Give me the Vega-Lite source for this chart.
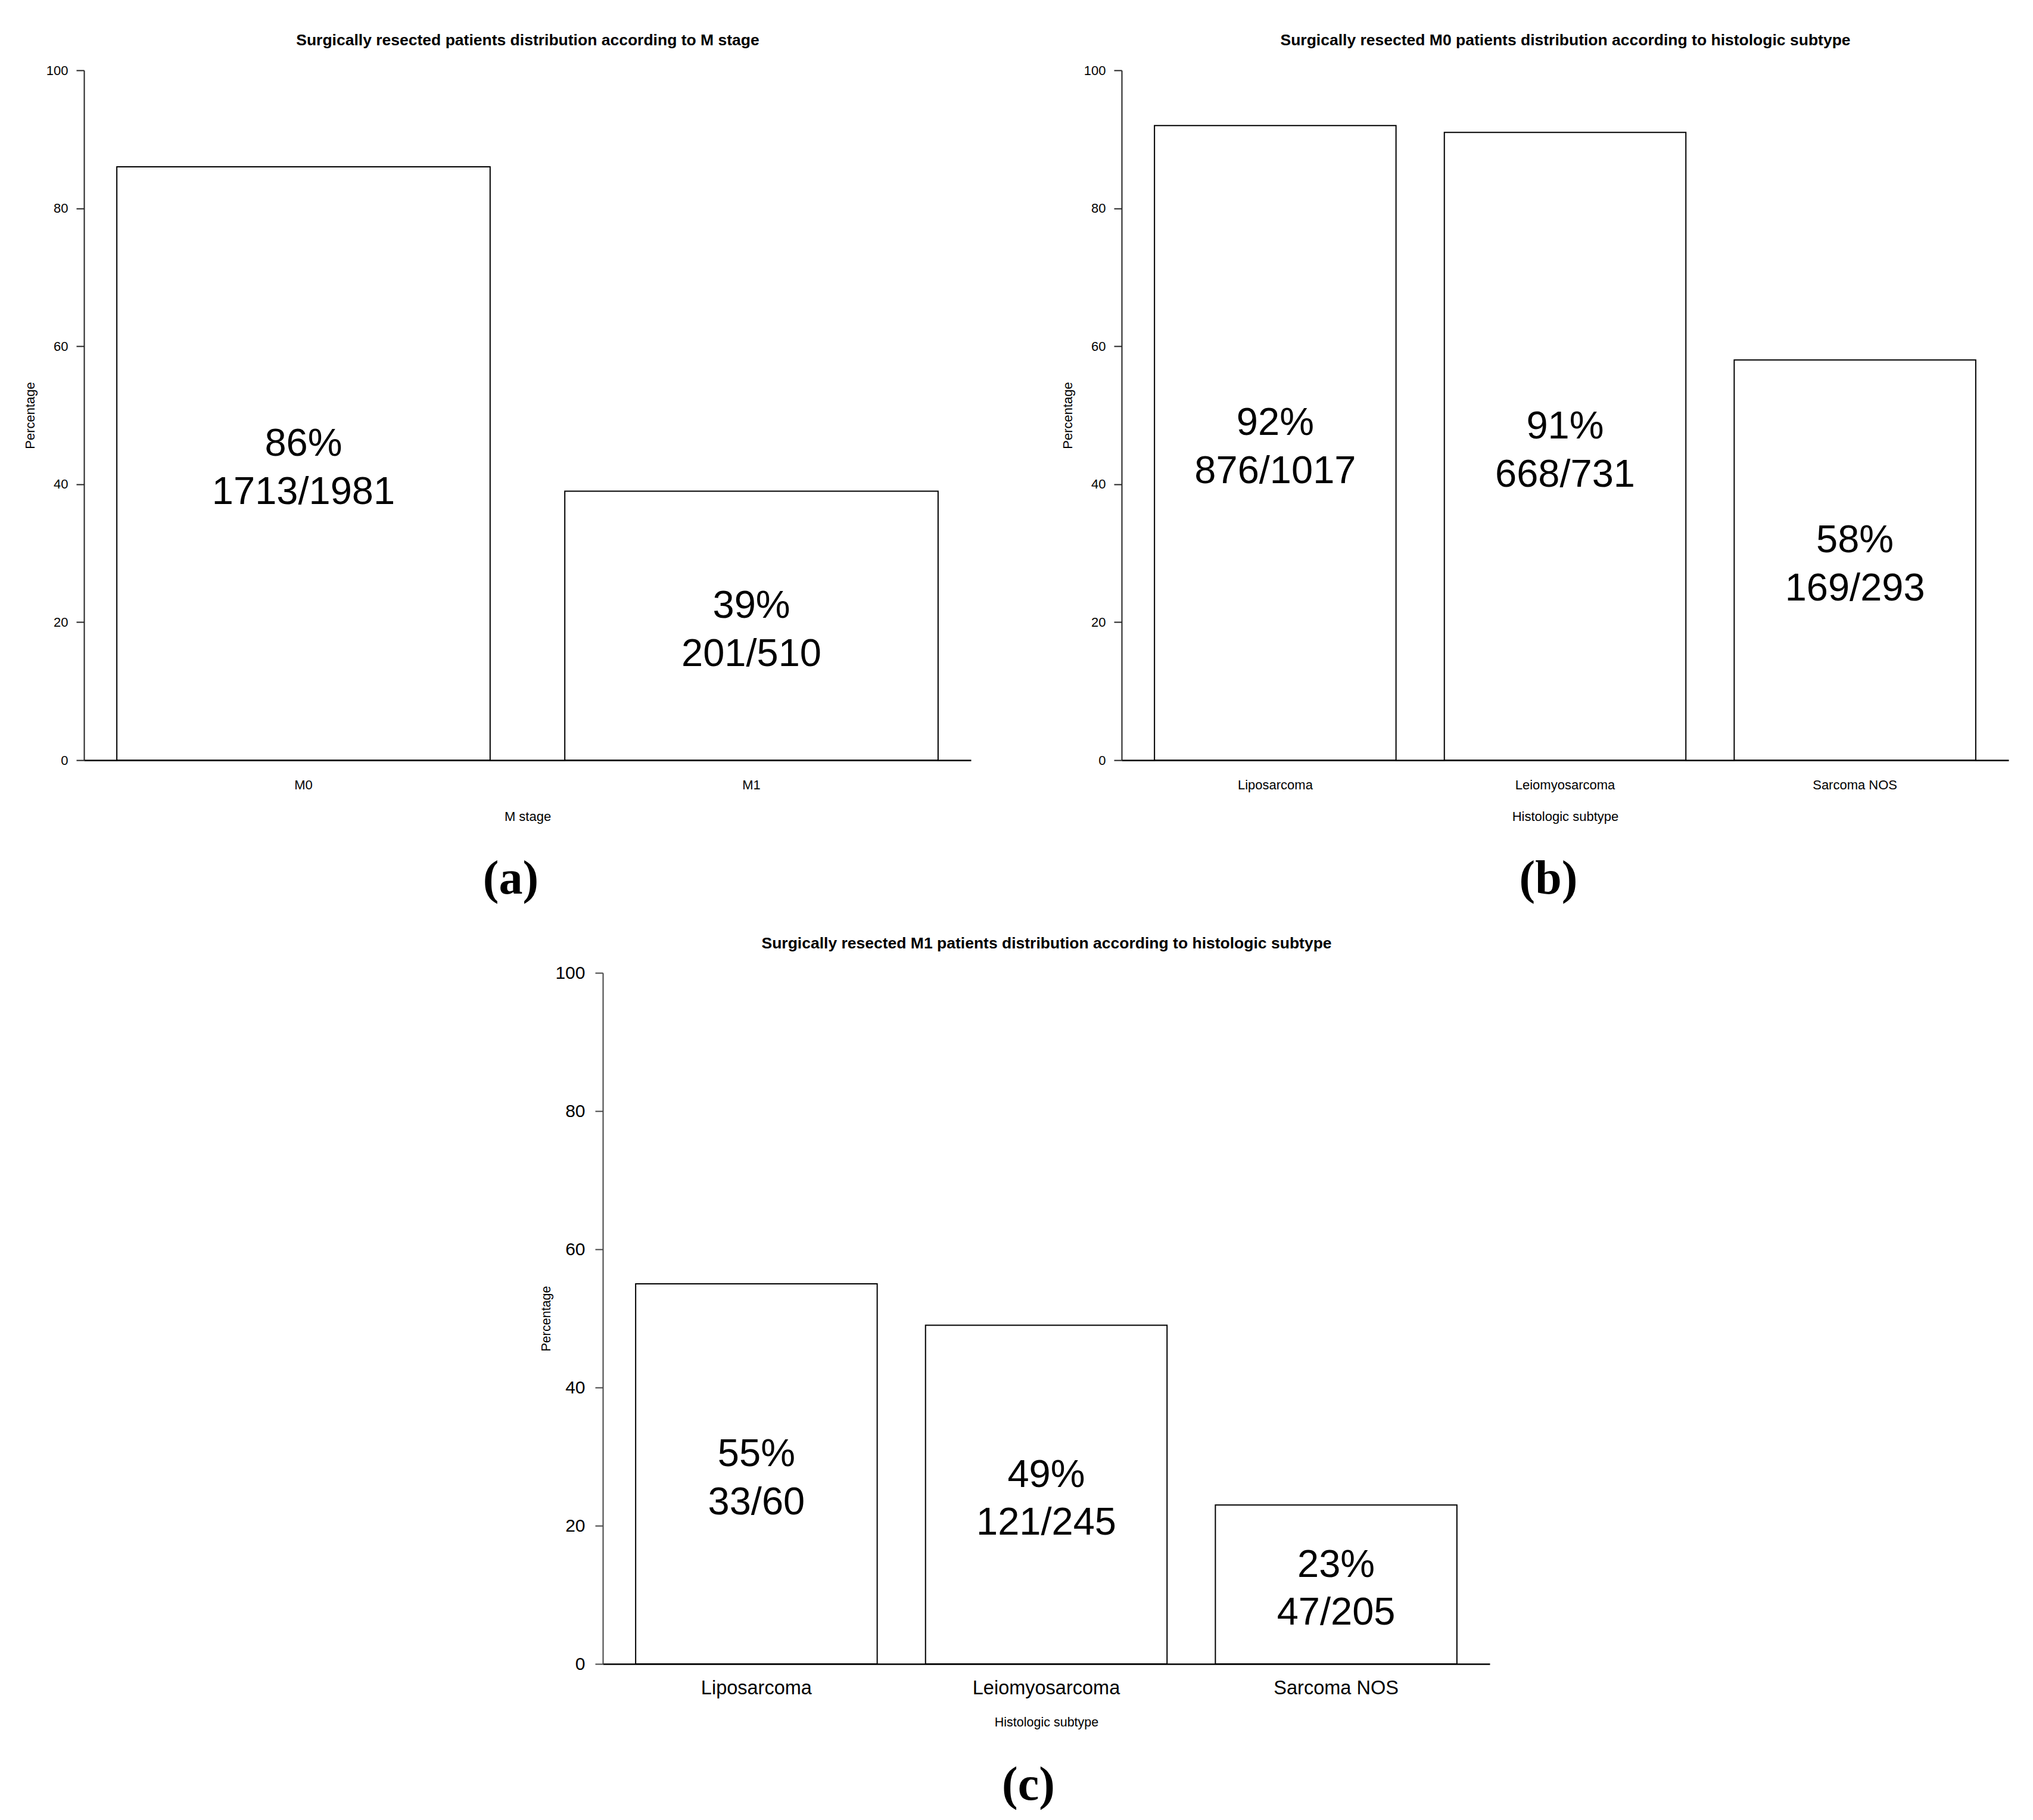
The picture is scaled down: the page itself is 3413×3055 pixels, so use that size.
{
  "$schema": "https://vega.github.io/schema/vega-lite/v6.json",
  "background": "white",
  "padding": {"left": 39, "top": 54, "right": 5, "bottom": 5},
  "datasets": {
    "a": [
      {"stage": "M0", "pct": 86, "label": ["86%", "1713/1981"]},
      {"stage": "M1", "pct": 39, "label": ["39%", "201/510"]}
    ],
    "b": [
      {"subtype": "Liposarcoma", "pct": 92, "label": ["92%", "876/1017"]},
      {"subtype": "Leiomyosarcoma", "pct": 91, "label": ["91%", "668/731"]},
      {"subtype": "Sarcoma NOS", "pct": 58, "label": ["58%", "169/293"]}
    ],
    "c": [
      {"subtype": "Liposarcoma", "pct": 55, "label": ["55%", "33/60"]},
      {"subtype": "Leiomyosarcoma", "pct": 49, "label": ["49%", "121/245"]},
      {"subtype": "Sarcoma NOS", "pct": 23, "label": ["23%", "47/205"]}
    ]
  },
  "vconcat": [
    {
      "hconcat": [
        {
          "width": 1489,
          "height": 1158,
          "data": {"name": "a"},
          "title": {"text": "(a)", "orient": "bottom", "anchor": "middle", "frame": "group", "font": "Liberation Serif", "fontSize": 80, "fontWeight": "bold", "color": "#000", "offset": 56, "dx": -28},
          "layer": [
            {
              "mark": {"type": "bar", "fill": "#fff", "stroke": "#000", "strokeWidth": 2},
              "encoding": {
                "x": {"field": "stage", "type": "nominal", "sort": null,
                  "scale": {"paddingInner": 0.1667, "paddingOuter": 0.0733},
                  "axis": {"orient": "bottom", "labelAngle": 0, "labelFontSize": 22, "labelPadding": 31, "labelLimit": 0, "ticks": false, "tickSize": 0, "domainWidth": 2.5, "domainColor": "#000", "title": "M stage", "titleFontSize": 22, "titleFontWeight": "normal", "titlePadding": 32}},
                "y": {"field": "pct", "type": "quantitative",
                  "scale": {"domain": [0, 100], "nice": false},
                  "axis": {"orient": "left", "values": [0, 20, 40, 60, 80, 100], "labelAngle": 0, "labelFontSize": 22, "labelPadding": 14, "labelFlush": false, "tickSize": 13, "tickWidth": 2, "tickColor": "#222", "domainWidth": 2, "domainColor": "#222", "title": "Percentage", "titleFontSize": 22, "titleFontWeight": "normal", "titlePadding": 15}}
              }
            },
            {
              "mark": {"type": "text", "font": "Liberation Sans", "fontSize": 65, "lineHeight": 80.7, "baseline": "middle", "align": "center", "dy": -33, "color": "#000"},
              "encoding": {
                "x": {"field": "stage", "type": "nominal", "sort": null,
                  "axis": {"orient": "top", "labels": false, "ticks": false, "tickSize": 0, "domain": true, "domainOpacity": 0, "title": "Surgically resected patients distribution according to M stage", "titleFontSize": 26.5, "titleFontWeight": "bold", "titlePadding": 37}},
                "y": {"field": "pct", "type": "quantitative", "scale": {"domain": [0, 200], "nice": false}, "axis": null},
                "text": {"field": "label"}
              }
            }
          ],
          "resolve": {"scale": {"y": "independent"}, "axis": {"x": "independent"}}
        },
        {
          "width": 1489,
          "height": 1158,
          "data": {"name": "b"},
          "title": {"text": "(b)", "orient": "bottom", "anchor": "middle", "frame": "group", "font": "Liberation Serif", "fontSize": 80, "fontWeight": "bold", "color": "#000", "offset": 56, "dx": -28},
          "layer": [
            {
              "mark": {"type": "bar", "fill": "#fff", "stroke": "#000", "strokeWidth": 2},
              "encoding": {
                "x": {"field": "subtype", "type": "nominal", "sort": null,
                  "scale": {"paddingInner": 0.1667, "paddingOuter": 0.1133},
                  "axis": {"orient": "bottom", "labelAngle": 0, "labelFontSize": 22, "labelPadding": 31, "labelLimit": 0, "ticks": false, "tickSize": 0, "domainWidth": 2.5, "domainColor": "#000", "title": "Histologic subtype", "titleFontSize": 22, "titleFontWeight": "normal", "titlePadding": 32}},
                "y": {"field": "pct", "type": "quantitative",
                  "scale": {"domain": [0, 100], "nice": false},
                  "axis": {"orient": "left", "values": [0, 20, 40, 60, 80, 100], "labelAngle": 0, "labelFontSize": 22, "labelPadding": 14, "labelFlush": false, "tickSize": 13, "tickWidth": 2, "tickColor": "#222", "domainWidth": 2, "domainColor": "#222", "title": "Percentage", "titleFontSize": 22, "titleFontWeight": "normal", "titlePadding": 15}}
              }
            },
            {
              "mark": {"type": "text", "font": "Liberation Sans", "fontSize": 65, "lineHeight": 80.7, "baseline": "middle", "align": "center", "dy": -33, "color": "#000"},
              "encoding": {
                "x": {"field": "subtype", "type": "nominal", "sort": null,
                  "axis": {"orient": "top", "labels": false, "ticks": false, "tickSize": 0, "domain": true, "domainOpacity": 0, "title": "Surgically resected M0 patients distribution according to histologic subtype", "titleFontSize": 26.5, "titleFontWeight": "bold", "titlePadding": 37}},
                "y": {"field": "pct", "type": "quantitative", "scale": {"domain": [0, 200], "nice": false}, "axis": null},
                "text": {"field": "label"}
              }
            }
          ],
          "resolve": {"scale": {"y": "independent"}, "axis": {"x": "independent"}}
        }
      ],
      "spacing": 151
    },
    {
      "width": 1489,
      "height": 1160,
      "data": {"name": "c"},
      "title": {"text": "(c)", "orient": "bottom", "anchor": "middle", "frame": "group", "font": "Liberation Serif", "fontSize": 80, "fontWeight": "bold", "color": "#000", "offset": 56, "dx": -30},
      "layer": [
        {
          "mark": {"type": "bar", "fill": "#fff", "stroke": "#000", "strokeWidth": 2},
          "encoding": {
            "x": {"field": "subtype", "type": "nominal", "sort": null,
              "scale": {"paddingInner": 0.1667, "paddingOuter": 0.1133},
              "axis": {"orient": "bottom", "labelAngle": 0, "labelFontSize": 32.5, "labelPadding": 24, "labelLimit": 0, "ticks": false, "tickSize": 0, "domainWidth": 2.5, "domainColor": "#000", "title": "Histologic subtype", "titleFontSize": 21.5, "titleFontWeight": "normal", "titlePadding": 31}},
            "y": {"field": "pct", "type": "quantitative",
              "scale": {"domain": [0, 100], "nice": false},
              "axis": {"orient": "left", "values": [0, 20, 40, 60, 80, 100], "labelAngle": 0, "labelFontSize": 30, "labelPadding": 17, "labelFlush": false, "tickSize": 13, "tickWidth": 2, "tickColor": "#444", "domainWidth": 2, "domainColor": "#444", "title": "Percentage", "titleFontSize": 21.5, "titleFontWeight": "normal", "titlePadding": 3}}
          }
        },
        {
          "mark": {"type": "text", "font": "Liberation Sans", "fontSize": 65, "lineHeight": 80.7, "baseline": "middle", "align": "center", "dy": -33, "color": "#000"},
          "encoding": {
            "x": {"field": "subtype", "type": "nominal", "sort": null,
              "axis": {"orient": "top", "labels": false, "ticks": false, "tickSize": 0, "domain": true, "domainOpacity": 0, "title": "Surgically resected M1 patients distribution according to histologic subtype", "titleFontSize": 26.5, "titleFontWeight": "bold", "titlePadding": 36}},
            "y": {"field": "pct", "type": "quantitative", "scale": {"domain": [0, 200], "nice": false}, "axis": null},
            "text": {"field": "label"}
          }
        }
      ],
      "resolve": {"scale": {"y": "independent"}, "axis": {"x": "independent"}}
    }
  ],
  "spacing": 54,
  "center": true,
  "config": {
    "font": "Liberation Sans",
    "view": {"stroke": null},
    "axis": {"labelFont": "Liberation Sans", "titleFont": "Liberation Sans", "labelColor": "#000", "titleColor": "#000", "grid": false, "labelOverlap": false}
  }
}
